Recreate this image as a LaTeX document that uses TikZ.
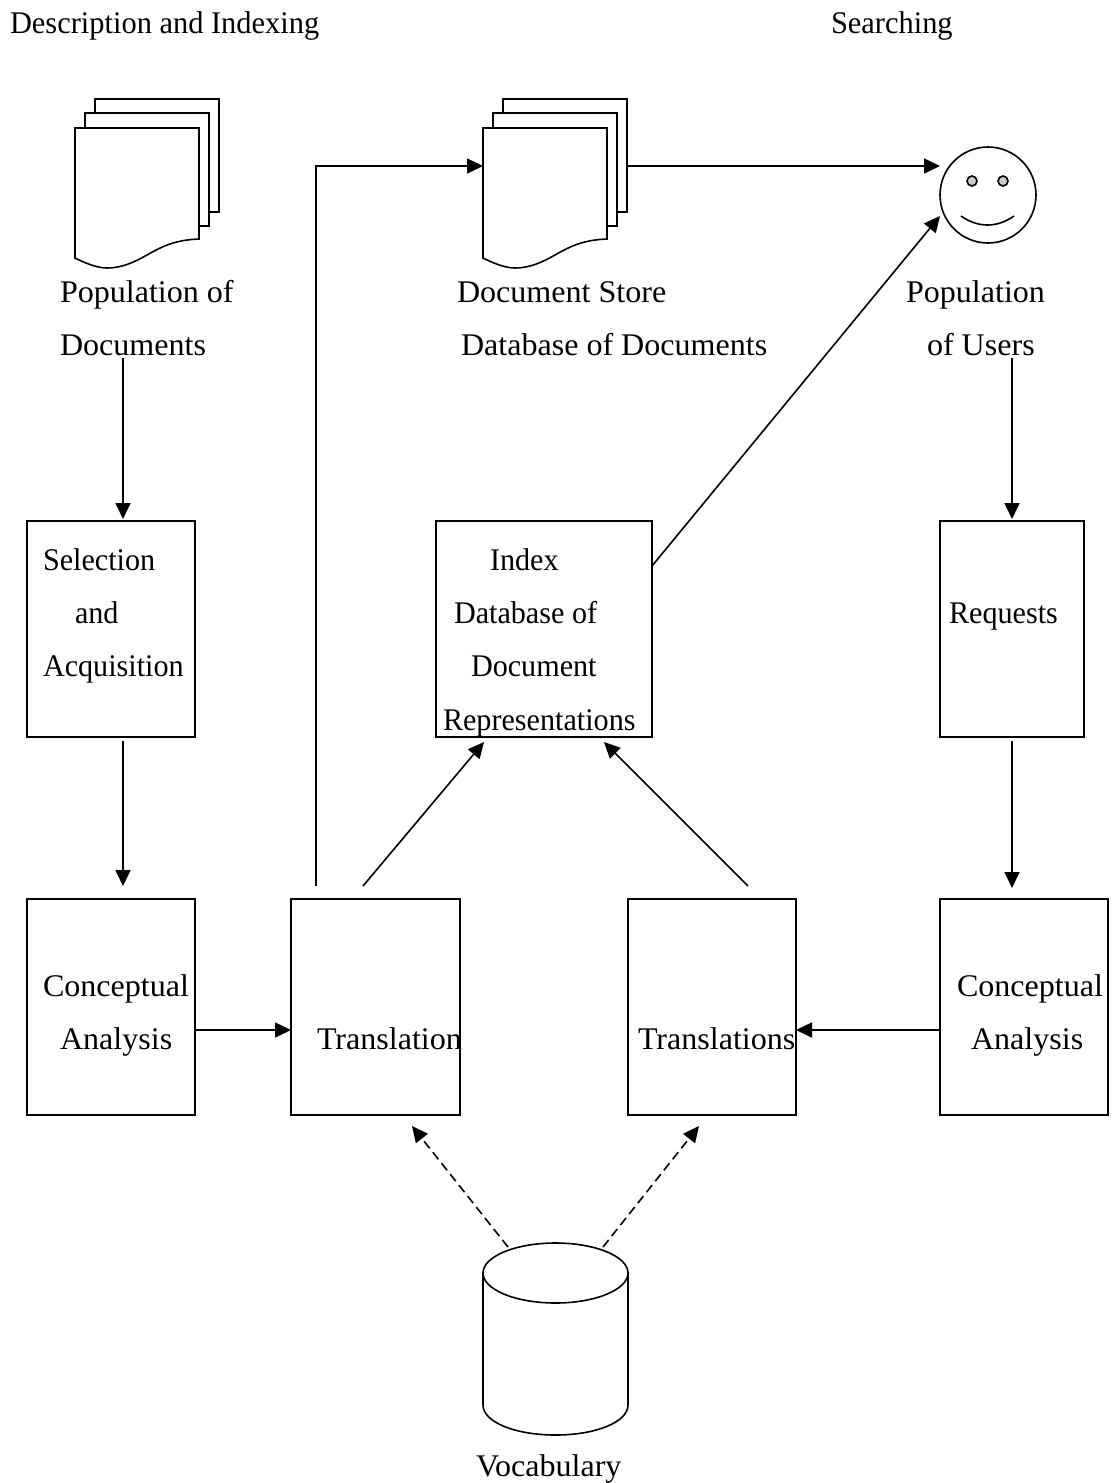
\documentclass[tikz,border=0pt]{standalone}
\usepackage{fontspec}
\setmainfont{Liberation Serif}
\newfontfamily\wideface[FakeStretch=1.018]{Liberation Serif}
\newfontfamily\narrowface[FakeStretch=0.957]{Liberation Serif}
\newfontfamily\titleface[FakeStretch=0.966]{Liberation Serif}
\usetikzlibrary{arrows.meta}
\tikzset{
  ln/.style={draw=black,line width=1.6pt},
  boxn/.style={ln,rectangle,inner sep=0pt,outer sep=0pt,anchor=north west,fill=white},
  lab/.style={anchor=base west,inner sep=0pt,outer sep=0pt,font=\fontsize{31.5}{36}\wideface,text=black},
  labn/.style={lab,font=\fontsize{31.5}{36}\narrowface},
  labt/.style={lab,font=\fontsize{31.5}{36}\titleface},
  arr/.style={ln,-{Triangle[length=16pt,width=15pt]},shorten >=0pt},
  darr/.style={arr,dash pattern=on 9pt off 5pt},
  page/.style={ln,fill=white,line join=miter}
}
\newcommand{\docstack}[2]{%
  \begin{scope}[shift={(#1,#2)}]
    \draw[page] (20,-29) -- (144,-29) -- (144,84) -- (124,84) -- (124,0) -- (20,0) -- cycle;
    \draw[page] (10,-15) -- (134,-15) -- (134,98) -- (124,98) -- (124,0) -- (10,0) -- cycle;
    \draw[page] (0,0) -- (124,0) -- (124,111)
      .. controls (100,112) and (88,118) .. (72,127)
      .. controls (58,135) and (46,140) .. (32,140)
      .. controls (22,140) and (10,135) .. (0,130) -- cycle;
  \end{scope}}
\begin{document}
\begin{tikzpicture}[x=1pt,y=-1pt]
\useasboundingbox (0,0) rectangle (1111,1483);
% boxes
\node[boxn,minimum width=168pt,minimum height=216pt] (sel) at (27,521) {};
\node[boxn,minimum width=216pt,minimum height=216pt] (idx) at (436,521) {};
\node[boxn,minimum width=144pt,minimum height=216pt] (req) at (940,521) {};
\node[boxn,minimum width=168pt,minimum height=216pt] (ca1) at (27,899) {};
\node[boxn,minimum width=169pt,minimum height=216pt] (tr1) at (291,899) {};
\node[boxn,minimum width=168pt,minimum height=216pt] (tr2) at (628,899) {};
\node[boxn,minimum width=168pt,minimum height=216pt] (ca2) at (940,899) {};
% document stacks
\docstack{75}{128}
\docstack{483}{128}
% face
\node[ln,circle,inner sep=0pt,outer sep=0pt,minimum size=96pt] (user) at (988,195) {};
\draw[ln,fill=black!20] (972,181) circle (5);
\draw[ln,fill=black!20] (1003,181) circle (5);
\draw[ln] (961,216) .. controls (978,228) and (997,228) .. (1014,216);
% cylinder
\draw[ln] (483,1273) -- (483,1405) .. controls (483,1422) and (515,1435) .. (555.5,1435)
  .. controls (596,1435) and (628,1422) .. (628,1405) -- (628,1273);
\draw[ln] (555.5,1273) ellipse (72.5 and 30);
% labels
\node[labt] (t1) at (10,33) {Description and Indexing};
\node[labt] (t2) at (831,33) {Searching};
\node[lab] (a1) at (60,302) {Population of};
\node[lab] (a2) at (60,355) {Documents};
\node[lab] (b1) at (457,302) {Document Store};
\node[lab] (b2) at (461,355) {Database of Documents};
\node[lab] (c1) at (906,302) {Population};
\node[lab] (c2) at (927,355) {of Users};
\node[labn] (d1) at (43,570) {Selection};
\node[labn] (d2) at (75,623) {and};
\node[labn] (d3) at (43,676) {Acquisition};
\node[labn] (e1) at (490,570) {Index};
\node[labn] (e2) at (454,623) {Database of};
\node[labn] (e3) at (471,676) {Document};
\node[labn] (e4) at (443,730) {Representations};
\node[labn] (f1) at (949,623) {Requests};
\node[lab] (g1) at (43,996) {Conceptual};
\node[lab] (g2) at (60,1049) {Analysis};
\node[lab] (h1) at (317,1049) {Translation};
\node[lab] (i1) at (638,1049) {Translations};
\node[lab] (j1) at (957,996) {Conceptual};
\node[lab] (j2) at (971,1049) {Analysis};
\node[lab] (k1) at (476,1476) {Vocabulary};
% named ends
\coordinate (p1) at (123,358);
\coordinate (p2) at (123,519);
\coordinate (p3) at (123,741);
\coordinate (p4) at (123,886);
\coordinate (p5) at (1012,358);
\coordinate (p6) at (1012,519);
\coordinate (p7) at (1012,741);
\coordinate (p8) at (1012,888);
\coordinate (q1) at (316,886);
\coordinate (q2) at (316,166);
\coordinate (q3) at (483,166);
\coordinate (q4) at (628,166);
\coordinate (q5) at (940,166);
\coordinate (r1) at (652,566);
\coordinate (r2) at (940,216);
\coordinate (s1) at (363,886);
\coordinate (s2) at (484,742);
\coordinate (s3) at (748,886);
\coordinate (s4) at (604,742);
\coordinate (u1) at (196,1030);
\coordinate (u2) at (291,1030);
\coordinate (v1) at (940,1030);
\coordinate (v2) at (796,1030);
\coordinate (w1) at (508,1247);
\coordinate (w2) at (412,1126);
\coordinate (w3) at (603,1247);
\coordinate (w4) at (699,1126);
% connectors
\draw[arr] (p1) -- (p2);
\draw[arr] (p3) -- (p4);
\draw[arr] (p5) -- (p6);
\draw[arr] (p7) -- (p8);
\draw[arr] (q1) -- (q2) -- (q3);
\draw[arr] (q4) -- (q5);
\draw[arr] (r1) -- (r2);
\draw[arr] (s1) -- (s2);
\draw[arr] (s3) -- (s4);
\draw[arr] (u1) -- (u2);
\draw[arr] (v1) -- (v2);
\draw[darr] (w1) -- (w2);
\draw[darr] (w3) -- (w4);
\end{tikzpicture}
\end{document}
